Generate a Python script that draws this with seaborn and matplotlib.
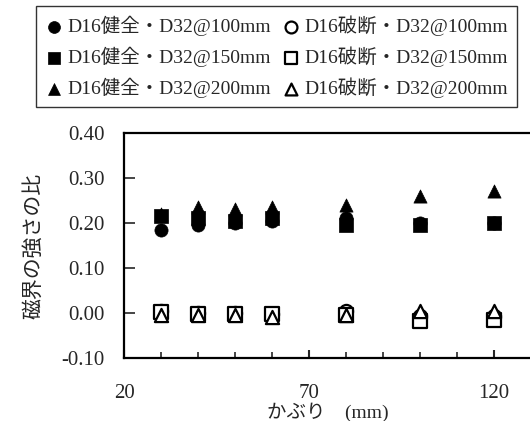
import numpy as np
import pandas as pd
import matplotlib
matplotlib.use('Agg')
import matplotlib.pyplot as plt
import seaborn as sns
from matplotlib.ticker import MultipleLocator, FixedLocator, FormatStrFormatter

sns.set_style('ticks')
plt.rcParams['font.family'] = ['Liberation Serif', 'Noto Sans CJK JP', 'DejaVu Sans']

# data
cover = [30, 40, 50, 60, 80, 100, 120]
sound_100 = [0.185, 0.195, 0.200, 0.205, 0.210, 0.200, 0.200]
sound_150 = [0.215, 0.210, 0.205, 0.210, 0.195, 0.195, 0.200]
sound_200 = [0.220, 0.235, 0.230, 0.235, 0.240, 0.260, 0.270]
broken_100 = [0.005, 0.000, 0.000, -0.002, 0.005, -0.008, -0.008]
broken_150 = [0.003, -0.002, -0.002, -0.002, -0.004, -0.018, -0.016]
broken_200 = [-0.005, -0.005, -0.005, -0.010, -0.005, 0.005, 0.005]

labels = ['D16健全・D32@100mm', 'D16健全・D32@150mm', 'D16健全・D32@200mm',
          'D16破断・D32@100mm', 'D16破断・D32@150mm', 'D16破断・D32@200mm']
series = [sound_100, sound_150, sound_200, broken_100, broken_150, broken_200]
markers = ['o', 's', '^', 'o', 's', '^']
filled = [True, True, True, False, False, False]

fig = plt.figure(figsize=(5.30, 4.21), dpi=100)
ax = fig.add_axes([0.234, 0.150, 0.768, 0.534])

for lab, vals, m, f in zip(labels, series, markers, filled):
    df = pd.DataFrame({'x': cover, 'y': vals})
    sns.scatterplot(data=df, x='x', y='y', ax=ax, marker=m, s=90,
                    color='black' if f else 'white',
                    edgecolor='black', linewidth=1.6 if not f else 0.5,
                    label=lab, zorder=3 if not f else 2)

ax.set_xlim(20, 130)
ax.set_ylim(-0.10, 0.40)
ax.xaxis.set_major_locator(FixedLocator([20, 70, 120]))
ax.xaxis.set_minor_locator(MultipleLocator(10))
ax.yaxis.set_major_locator(MultipleLocator(0.1))
ax.yaxis.set_major_formatter(FormatStrFormatter('%.2f'))
ax.tick_params(axis='x', which='major', direction='in', length=6, width=1.5,
               pad=19, labelsize=15)
ax.tick_params(axis='x', which='minor', direction='in', length=4, width=1.2)
ax.tick_params(axis='y', direction='in', length=8, width=1.2, pad=14, labelsize=15)
for sp in ax.spines.values():
    sp.set_linewidth(1.6)
    sp.set_color('black')

ax.set_xlabel('かぶり　(mm)', fontsize=14)
ax.xaxis.set_label_coords(0.5, -0.2)
ax.set_ylabel('磁界の強さの比', fontsize=15, labelpad=12)

h, l = ax.get_legend_handles_labels()
ax.get_legend().remove()
leg = fig.legend(h, l, loc='upper center', bbox_to_anchor=(0.522, 0.985), ncol=2,
                 fontsize=14, frameon=True, fancybox=False, edgecolor='black',
                 handlelength=0.9, handletextpad=0.25, columnspacing=0.6,
                 labelspacing=0.55, borderpad=0.45, borderaxespad=0.0,
                 markerscale=0.9)
leg.get_frame().set_linewidth(1.0)

fig.savefig('out.png', dpi=100)
